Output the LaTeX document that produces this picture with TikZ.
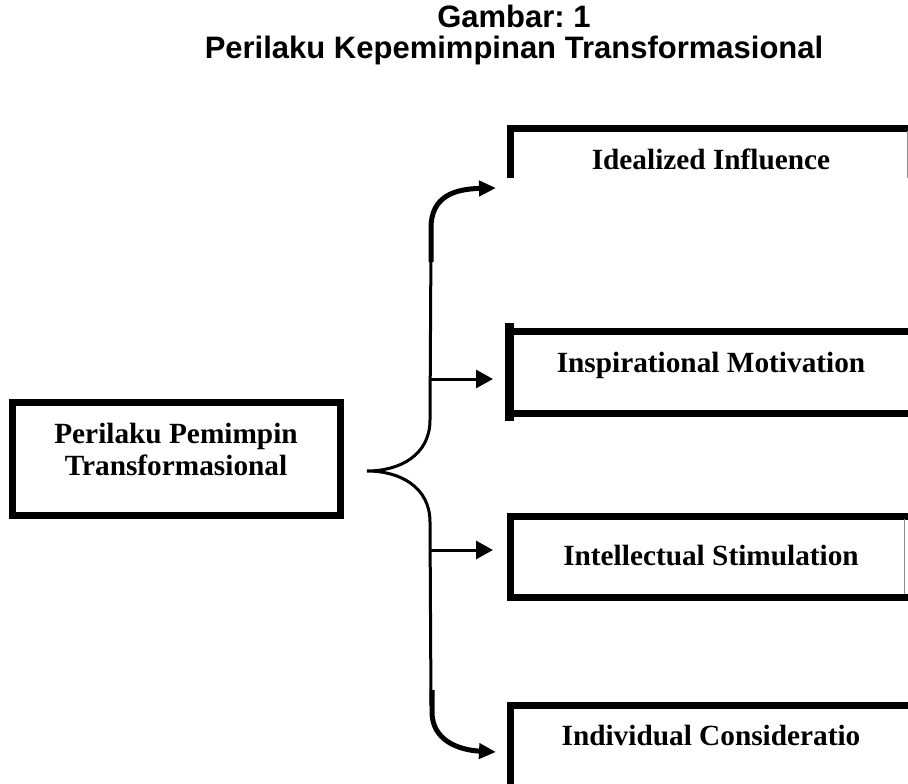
\documentclass[tikz,border=0pt]{standalone}
\usepackage{fontspec}
\setmainfont{Liberation Serif}
\newfontfamily\titlefont{Liberation Sans}
\usetikzlibrary{arrows.meta}
\frenchspacing
\begin{document}
\begin{tikzpicture}[x=1pt,y=-1pt,
  boxline/.style={line width=7pt},
  thinedge/.style={line width=1pt,draw=black!45},
  lbl/.style={font=\fontsize{29.3}{32}\selectfont\bfseries, anchor=base, inner sep=0pt},
  ttl/.style={font=\titlefont\fontsize{31}{34}\selectfont\bfseries, anchor=base, inner sep=0pt},
  brace/.style={line width=3pt},
  harrow/.style={line width=3pt,-{Triangle[length=17pt,width=18pt]}},
  carrow/.style={line width=5pt,-{Triangle[length=17pt,width=15pt]}}]
\useasboundingbox (0,0) rectangle (908,784);

% title
\node[ttl] (t1) at (514,28) {Gambar: 1};
\node[ttl] (t2) at (514,59) {Perilaku Kepemimpinan Transformasional};

% source box
\node[draw, line width=7pt, inner sep=0pt, minimum width=328pt, minimum height=113pt] (src) at (176,458.5) {};
\node[lbl] (s1) at (176,443) {Perilaku Pemimpin};
\node[lbl] (s2) at (176,475) {Transformasional};

% target boxes (partly cut off)
\draw[boxline] (510,178) -- (510,128) -- (908,128);
\draw[thinedge] (907,131) -- (907,178);
\node[lbl] (b1) at (711,169) {Idealized Influence};

\draw[boxline] (509,331) -- (908,331);
\draw[boxline] (509,413) -- (908,413);
\draw[line width=9pt] (509,323) -- (509,421);
\node[lbl] (b2) at (711,372) {Inspirational Motivation};

\draw[boxline] (908,516) -- (510,516) -- (510,597) -- (908,597);
\draw[thinedge] (904,519) -- (904,594);
\node[lbl] (b3) at (711,565) {Intellectual Stimulation};

\draw[boxline] (510,784) -- (510,705) -- (908,705);
\node[lbl] (b4) at (711,745) {Individual Consideratio};

% connector coordinates
\coordinate (bp) at (367,471);
\coordinate (up) at (430,420);
\coordinate (lo) at (430,522);
\coordinate (top) at (431,240);
\coordinate (bot) at (431,706);
\coordinate (e1) at (496,188);
\coordinate (e2) at (493,379);
\coordinate (e3) at (493,550);
\coordinate (e4) at (496,752);

% brace
\draw[brace] (top) -- (up) .. controls (430,455) and (400,471) .. (bp)
  .. controls (400,471) and (430,487) .. (lo) -- (bot);

% arrows
\draw[carrow] (431,262) -- (431,228) .. controls (431,196) and (455,189) .. (e1);
\draw[harrow] (430,379) -- (e2);
\draw[harrow] (430,550) -- (e3);
\draw[carrow] (432,690) -- (432,712) .. controls (432,740) and (458,750) .. (e4);
\end{tikzpicture}
\end{document}
